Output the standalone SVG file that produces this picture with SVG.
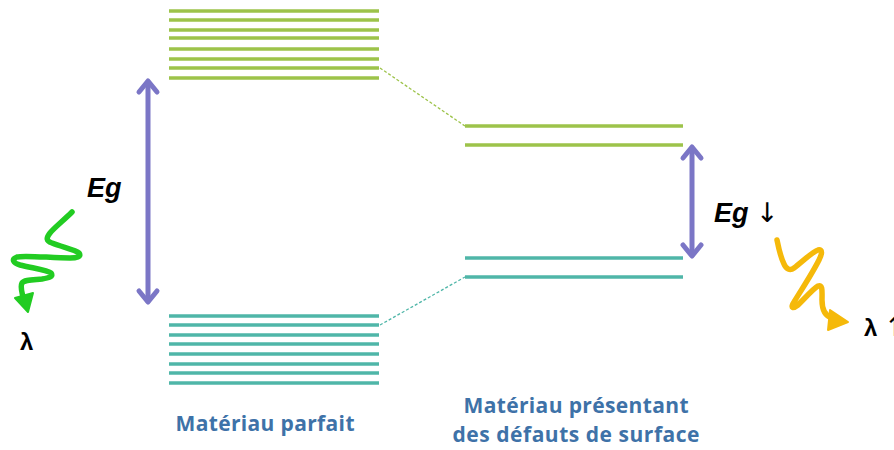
<svg xmlns="http://www.w3.org/2000/svg" width="894" height="450" viewBox="0 0 894 450">
<style>
.g{stroke:#9dc34a;stroke-width:3.5}
.t{stroke:#4fb6a8;stroke-width:3.5}
.a{stroke:#7b76c6;stroke-width:5;fill:none;stroke-linecap:round;stroke-linejoin:round}
.lbl{font-family:"Open Sans","Liberation Sans",sans-serif;font-weight:bold;fill:#3e72a8;font-size:21px;text-anchor:middle}
.eg{font-family:"Liberation Sans",Arial,sans-serif;font-weight:bold;font-style:italic;font-size:27px;fill:#000}
.arr{font-family:"DejaVu Sans",sans-serif;font-style:normal;font-weight:normal;font-size:27px;fill:#000}
.lam{font-family:"Liberation Sans",Arial,sans-serif;font-weight:bold;font-size:24px;fill:#000}
</style>
<rect width="894" height="450" fill="#fff"/>
<g id="perfect-conduction">
<line class="g" x1="169" y1="11" x2="379" y2="11"/>
<line class="g" x1="169" y1="20" x2="379" y2="20"/>
<line class="g" x1="169" y1="30" x2="379" y2="30"/>
<line class="g" x1="169" y1="38" x2="379" y2="38"/>
<line class="g" x1="169" y1="49" x2="379" y2="49"/>
<line class="g" x1="169" y1="59" x2="379" y2="59"/>
<line class="g" x1="169" y1="68" x2="379" y2="68"/>
<line class="g" x1="169" y1="78" x2="379" y2="78"/>
</g>
<g id="perfect-valence">
<line class="t" x1="169" y1="316" x2="379" y2="316"/>
<line class="t" x1="169" y1="325" x2="379" y2="325"/>
<line class="t" x1="169" y1="335" x2="379" y2="335"/>
<line class="t" x1="169" y1="344" x2="379" y2="344"/>
<line class="t" x1="169" y1="354" x2="379" y2="354"/>
<line class="t" x1="169" y1="364" x2="379" y2="364"/>
<line class="t" x1="169" y1="373" x2="379" y2="373"/>
<line class="t" x1="169" y1="383" x2="379" y2="383"/>
</g>
<g id="defect-conduction">
<line class="g" x1="465" y1="126" x2="683" y2="126"/>
<line class="g" x1="465" y1="145" x2="683" y2="145"/>
</g>
<g id="defect-valence">
<line class="t" x1="465" y1="258" x2="683" y2="258"/>
<line class="t" x1="465" y1="277" x2="683" y2="277"/>
</g>
<g id="connectors">
<line x1="380" y1="68" x2="465" y2="126" stroke="#9dc34a" stroke-width="1.3" stroke-dasharray="3,2"/>
<line x1="380" y1="325" x2="465" y2="277" stroke="#4fb6a8" stroke-width="1.3" stroke-dasharray="3,2"/>
<g id="eg-left-arrow">
<line class="a" x1="148" y1="82" x2="148" y2="301"/>
<polyline class="a" points="139,92 148,81 157,92"/>
<polyline class="a" points="139,291 148,302 157,291"/>
</g>
<g id="eg-right-arrow">
<line class="a" x1="692" y1="148" x2="692" y2="255"/>
<polyline class="a" points="683,158 692,147 701,158"/>
<polyline class="a" points="683,245 692,256 701,245"/>
</g>
<g id="green-photon">
<path d="M72,212 C64,220 54,228 50,233 C46,238 46,241 52,243 C62,247 76,250 79,253 C82,257 76,258 70,258 C52,258 24,255 17,257 C11,259 13,263 20,265 C32,268 48,270 51,273 C54,277 48,278 42,279 C32,280 24,280 22,283 C20,287 22,292 23,297" fill="none" stroke="#22cc22" stroke-width="5.5" stroke-linecap="round" stroke-linejoin="round"/>
<polygon points="15,298 33,293 28,312" fill="#22cc22" stroke="#22cc22" stroke-width="2" stroke-linejoin="round"/>
</g>
<g id="yellow-photon">
<path d="M777,240 C779,250 781,258 784,264 C786,269 790,271 794,268 C802,262 812,252 818,250 C823,249 822,254 819,260 C812,274 800,292 794,302 C790,308 793,309 798,305 C806,297 814,288 818,286 C823,284 822,292 822,300 C822,310 825,316 832,318 L838,320" fill="none" stroke="#f5b90a" stroke-width="5.5" stroke-linecap="round" stroke-linejoin="round"/>
<polygon points="830,310 848,322 828,330" fill="#f5b90a" stroke="#f5b90a" stroke-width="2" stroke-linejoin="round"/>
</g>
</g>
<g id="texts">
<text class="eg" x="87" y="197">Eg</text>
<text class="eg" x="714" y="222">Eg <tspan class="arr">↓</tspan></text>
<text class="lam" x="20" y="350">λ</text>
<text class="lam" x="864" y="336">λ <tspan class="arr" font-size="22">↑</tspan></text>
<text class="lbl" x="265" y="431" textLength="179">Matériau parfait</text>
<text class="lbl" x="576" y="413" textLength="225">Matériau présentant</text>
<text class="lbl" x="576" y="442" textLength="247">des défauts de surface</text>
</g>
</svg>
